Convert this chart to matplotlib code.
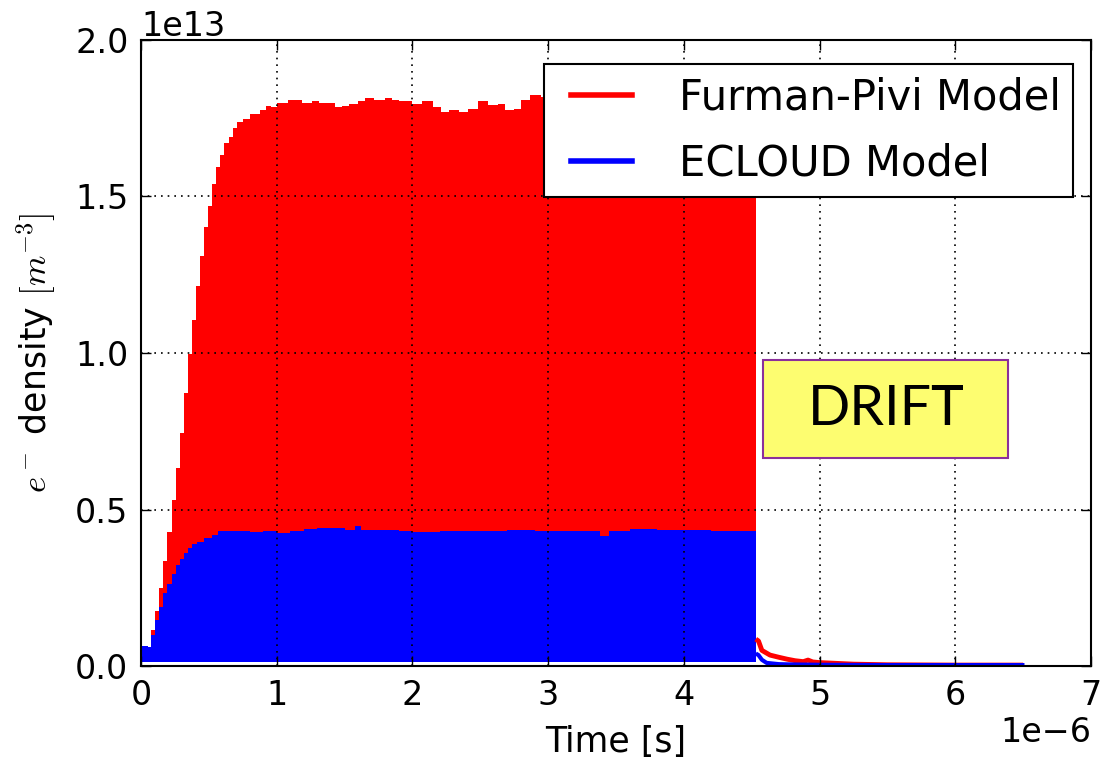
import matplotlib
matplotlib.use('Agg')
import matplotlib.pyplot as plt
from matplotlib.patches import Rectangle
from matplotlib.legend_handler import HandlerLine2D
import numpy as np

# ---- data (time in microseconds, density in 1e13 m^-3) ----
fp_t = [0.01, 0.05, 0.077, 0.105, 0.135, 0.165, 0.195, 0.225, 0.255, 0.285, 0.315, 0.345,
        0.375, 0.405, 0.435, 0.465, 0.495, 0.525, 0.555, 0.585, 0.615, 0.645, 0.675, 0.705,
        0.75, 0.80, 0.84, 0.88, 0.92, 0.96, 1.00, 1.04, 1.08, 1.14, 1.19, 1.26, 1.31, 1.36,
        1.43, 1.48, 1.53, 1.60, 1.65, 1.72, 1.80, 1.85, 1.90, 2.00, 2.07, 2.15, 2.21, 2.27,
        2.34, 2.41, 2.48, 2.56, 2.63, 2.68, 2.75, 2.80, 2.87, 2.95, 3.20, 3.60, 4.00, 4.30, 4.53]
fp_upper = [0.06, 0.055, 0.115, 0.177, 0.25, 0.335, 0.427, 0.53, 0.634, 0.744, 0.872, 0.996,
            1.104, 1.213, 1.309, 1.402, 1.47, 1.54, 1.594, 1.634, 1.671, 1.689, 1.72, 1.738,
            1.746, 1.762, 1.765, 1.776, 1.79, 1.785, 1.798, 1.80, 1.808, 1.808, 1.798, 1.805, 1.80, 1.798,
            1.787, 1.79, 1.796, 1.804, 1.816, 1.807, 1.814, 1.808, 1.804, 1.795, 1.804, 1.787, 1.771, 1.776,
            1.771, 1.78, 1.804, 1.793, 1.796, 1.776, 1.781, 1.808, 1.824, 1.819, 1.82, 1.82, 1.82, 1.82, 1.82]
fp_floor = 0.013

ec_t = [0.01, 0.05, 0.075, 0.105, 0.135, 0.165, 0.195, 0.225, 0.255, 0.285, 0.315, 0.345,
        0.375, 0.415, 0.465, 0.525, 0.565, 0.65, 0.80, 0.90, 1.00, 1.10, 1.20, 1.30, 1.50,
        1.58, 1.62, 1.70, 1.90, 2.00, 2.20, 2.50, 2.70, 2.90, 3.20, 3.38, 3.45, 3.60, 3.80,
        4.00, 4.20, 4.40, 4.53]
ec_upper = [0.065, 0.06, 0.098, 0.146, 0.189, 0.232, 0.262, 0.293, 0.323, 0.341, 0.36, 0.378,
            0.39, 0.396, 0.409, 0.42, 0.43, 0.43, 0.428, 0.43, 0.424, 0.43, 0.438, 0.44, 0.435,
            0.448, 0.436, 0.433, 0.43, 0.428, 0.43, 0.432, 0.436, 0.43, 0.43, 0.416, 0.432, 0.438, 0.435,
            0.433, 0.432, 0.43, 0.435]
ec_floor = 0.014

fp_drift_t = [4.53, 4.55, 4.575, 4.635, 4.70, 4.76, 4.82, 4.88, 4.915, 4.95, 5.0, 5.25, 5.5, 6.0, 6.5]
fp_drift = [0.086, 0.08, 0.05, 0.035, 0.028, 0.022, 0.017, 0.014, 0.019, 0.013, 0.011, 0.006, 0.004, 0.003, 0.003]
ec_drift_t = [4.53, 4.55, 4.575, 4.61, 4.70, 4.80, 5.0, 5.5, 6.0, 6.51]
ec_drift = [0.04, 0.035, 0.02, 0.01, 0.006, 0.005, 0.004, 0.003, 0.003, 0.003]

labels = ['Furman-Pivi Model', 'ECLOUD Model']
T_SCALE = 1e-6
N_SCALE = 1e13

plt.rcParams['mathtext.fontset'] = 'cm'
plt.rcParams['axes.axisbelow'] = False

fig = plt.figure(figsize=(11.05, 7.66), dpi=100)
ax = fig.add_axes([0.1276, 0.1305, 0.8597, 0.8173])

red = '#ff0000'
blue = '#0000ff'

fpt = np.array(fp_t) * T_SCALE
ax.fill_between(fpt, fp_floor * N_SCALE, np.array(fp_upper) * N_SCALE, step='post',
                color=red, linewidth=0)
ax.plot(np.array(fp_drift_t) * T_SCALE, np.array(fp_drift) * N_SCALE, color=red, lw=3.5,
        solid_capstyle='butt')

ect = np.array(ec_t) * T_SCALE
ax.fill_between(ect, ec_floor * N_SCALE, np.array(ec_upper) * N_SCALE, step='post',
                color=blue, linewidth=0)
ax.plot(np.array(ec_drift_t) * T_SCALE, np.array(ec_drift) * N_SCALE, color=blue, lw=3,
        solid_capstyle='butt')

# legend proxies
h1, = ax.plot([], [], color=red, lw=4, label=labels[0])
h2, = ax.plot([], [], color=blue, lw=4, label=labels[1])

ax.set_xlim(0, 7e-6)
ax.set_ylim(0, 2e13)
ax.set_xticks(np.arange(0, 8) * 1e-6)
ax.set_yticks(np.arange(0, 2.01, 0.5) * 1e13)

ax.grid(True, color='k', linestyle=(0, (1, 3)), linewidth=1.2)
ax.tick_params(direction='in', top=True, right=True, length=7, width=1, labelsize=24, pad=9)
for s in ax.spines.values():
    s.set_linewidth(1.5)
ax.xaxis.get_offset_text().set_fontsize(24)
ax.yaxis.get_offset_text().set_fontsize(24)

ax.set_xlabel('Time [s]', fontsize=25, labelpad=10)
ax.set_ylabel(r'$e^-$ density $[m^{-3}]$', fontsize=25, labelpad=12)

hmap = {h1: HandlerLine2D(marker_pad=0.35, numpoints=2),
        h2: HandlerLine2D(marker_pad=0.35, numpoints=2)}
leg = ax.legend(handles=[h1, h2], loc='upper right', bbox_to_anchor=(0.981, 0.9617),
                borderaxespad=0, fontsize=30, handlelength=2.16, handletextpad=0.76,
                borderpad=0.3, labelspacing=0.58, fancybox=False, framealpha=1,
                handler_map=hmap)
leg.get_frame().set_edgecolor('k')
leg.get_frame().set_linewidth(1.5)

ax.add_patch(Rectangle((0.655, 0.332), 0.258, 0.157, transform=ax.transAxes,
                       facecolor='#fdfd70', edgecolor='#8b2f9b', lw=1.5, zorder=5))
ax.text(0.784, 0.41, 'DRIFT', transform=ax.transAxes, ha='center', va='center',
        fontsize=40, family='Lato', zorder=6)

fig.savefig('out.png', dpi=100)
